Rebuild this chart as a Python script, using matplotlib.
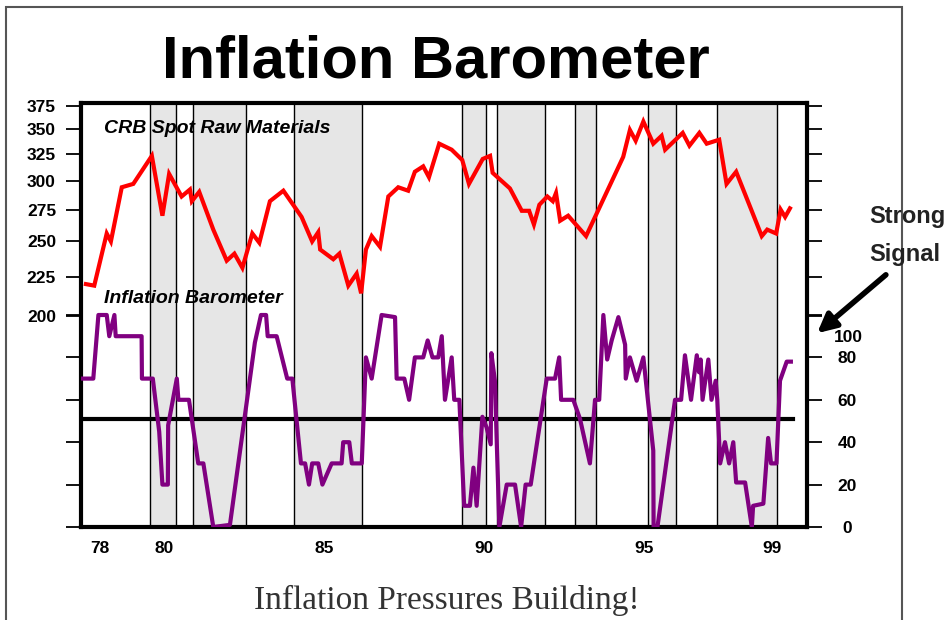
import numpy as np
import matplotlib
matplotlib.use("Agg")
import matplotlib.pyplot as plt
import matplotlib.transforms as mtransforms
from matplotlib.patches import Rectangle
from matplotlib.ticker import FixedLocator, NullLocator, FixedFormatter

plt.rcParams['font.family'] = ['Liberation Sans', 'DejaVu Sans']

# CRB Spot Raw Materials (left, log scale)
crb_year = [77.56, 77.82, 78.21, 78.34, 78.68, 79.04, 79.62, 79.95, 80.16, 80.55,
            80.81, 80.87, 81.10, 81.54, 81.96, 82.20, 82.45, 82.76, 82.98, 83.31,
            83.73, 84.30, 84.63, 84.82, 84.88, 85.29, 85.48, 85.76, 86.02, 86.16,
            86.31, 86.49, 86.75, 87.01, 87.32, 87.63, 87.84, 88.10, 88.28, 88.60,
            88.99, 89.32, 89.53, 89.96, 90.19, 90.27, 90.81, 91.18, 91.41, 91.56,
            91.73, 91.98, 92.15, 92.25, 92.38, 92.63, 93.19, 94.35, 94.56, 94.74,
            94.98, 95.29, 95.55, 95.66, 96.21, 96.42, 96.73, 96.96, 97.35, 97.58,
            97.88, 98.68, 98.85, 99.13, 99.27, 99.41, 99.56]
crb_value = [220, 219, 256, 250, 294, 297, 323, 270, 306, 286,
             292, 282, 290, 259, 236, 241, 231, 256, 249, 282,
             291, 269, 250, 257, 244, 237, 241, 219, 227, 214,
             244, 254, 246, 286, 294, 291, 308, 313, 303, 335,
             329, 319, 297, 320, 323, 307, 293, 274, 274, 263,
             279, 286, 282, 289, 266, 270, 254, 322, 349, 338,
             358, 335, 343, 329, 346, 333, 346, 335, 339, 297,
             308, 254, 259, 256, 275, 269, 276]

# Inflation Barometer (right, 0-100)
baro_year = [77.46, 77.79, 77.95, 78.21, 78.29, 78.45, 78.49, 79.30, 79.31, 79.65,
             79.85, 79.95, 80.12, 80.13, 80.40, 80.45, 80.78, 81.07, 81.23, 81.54,
             82.06, 82.84, 83.03, 83.19, 83.24, 83.52, 83.85, 84.01, 84.28, 84.41,
             84.53, 84.63, 84.82, 84.95, 85.24, 85.55, 85.60, 85.79, 85.87, 86.18,
             86.31, 86.49, 86.80, 87.22, 87.27, 87.51, 87.66, 87.84, 88.10, 88.24,
             88.39, 88.57, 88.68, 88.78, 88.99, 89.07, 89.23, 89.38, 89.56, 89.67,
             89.77, 89.95, 90.08, 90.21, 90.23, 90.34, 90.48, 90.71, 90.97, 91.16,
             91.30, 91.46, 91.96, 92.22, 92.35, 92.41, 92.79, 93.00, 93.31, 93.47,
             93.60, 93.73, 93.85, 93.99, 94.20, 94.41, 94.43, 94.56, 94.77, 94.98,
             95.29, 95.30, 95.42, 95.97, 96.16, 96.28, 96.47, 96.65, 96.72, 96.77,
             96.83, 97.01, 97.11, 97.24, 97.29, 97.38, 97.53, 97.66, 97.79, 97.88,
             98.16, 98.37, 98.41, 98.73, 98.88, 98.97, 99.14, 99.25, 99.46, 99.59]
baro_value = [70, 70, 100, 100, 90, 100, 90, 90, 70, 70,
              45, 20, 20, 48, 70, 60, 60, 30, 30, 0,
              1, 87, 100, 100, 90, 90, 70, 70, 30, 30,
              20, 30, 30, 20, 30, 30, 40, 40, 30, 30,
              80, 70, 100, 99, 70, 70, 60, 80, 80, 88,
              80, 80, 90, 60, 80, 60, 60, 10, 10, 28,
              10, 52, 47, 39, 82, 69, 0, 20, 20, 0,
              20, 20, 70, 70, 80, 60, 60, 51, 30, 60,
              60, 100, 79, 88, 99, 86, 70, 80, 69, 80,
              36, 0, 0, 60, 60, 81, 60, 81, 73, 79,
              60, 79, 60, 69, 60, 30, 40, 30, 40, 21,
              21, 0, 10, 11, 42, 30, 30, 69, 78, 78]

# shaded periods (start, end)
band_start = [79.56, 80.91, 84.06, 89.31, 90.41, 92.84, 95.13, 97.28]
band_end = [80.38, 82.56, 86.19, 90.06, 91.91, 93.50, 96.00, 99.16]

crb_ticks = [200, 225, 250, 275, 300, 325, 350, 375]
baro_ticks = [0, 20, 40, 60, 80, 100]
year_ticks = [78, 80, 85, 90, 95, 99]
year_labels = ['78', '80', '85', '90', '95', '99']
signal_level = 51

W, H = 948, 620
fig = plt.figure(figsize=(W / 100, H / 100), dpi=100)


def fx(x):
    return x / W


def fy(y):
    return 1 - y / H


ax = fig.add_axes([fx(81), fy(527), fx(807) - fx(81), fy(103) - fy(527)])
ax2 = ax.twinx()

# shaded bands
for s, e in zip(band_start, band_end):
    ax.axvspan(s, e, facecolor='#e6e6e6', edgecolor='black', lw=1, zorder=0)

ax.plot(crb_year, crb_value, color='#ff0000', lw=3, solid_joinstyle='miter', zorder=3)
ax.set_yscale('log')
ax.set_ylim(106.3, 378.4)
ax.set_xlim(77.406, 100.094)

ax2.plot(baro_year, baro_value, color='#800080', lw=3, zorder=3)
ax2.axhline(signal_level, xmin=0, xmax=0.981, color='black', lw=3, zorder=2)
ax2.set_ylim(0, 200)

# left axis: CRB labels
ax.yaxis.set_major_locator(FixedLocator(crb_ticks))
ax.yaxis.set_major_formatter(FixedFormatter([str(t) for t in crb_ticks]))
ax.yaxis.set_minor_locator(NullLocator())
ax.tick_params(axis='y', which='major', left=True, right=True, labelleft=True,
               labelright=False, direction='out', length=11, width=1.3, pad=7,
               labelsize=12.5)
for lbl in ax.get_yticklabels():
    lbl.set_fontweight('bold')

ax.set_xticks(year_ticks)
ax.set_xticklabels(year_labels, fontweight='bold', fontsize=12.5)
ax.tick_params(axis='x', length=0, pad=10)

# right axis: barometer labels
ax2.yaxis.set_major_locator(FixedLocator(baro_ticks))
ax2.yaxis.set_major_formatter(FixedFormatter(['0', '20', '40', '60', '80', '']))
ax2.tick_params(axis='y', left=True, right=True, labelleft=False, labelright=True,
                direction='out', length=11, width=1.3, pad=18, labelsize=12.5)
for lbl in ax2.get_yticklabels():
    lbl.set_fontweight('bold')
    lbl.set_horizontalalignment('center')
lab_tr = mtransforms.blended_transform_factory(ax2.transAxes, ax2.transData)
ax2.text(1.0565, 89.6, '100', transform=lab_tr, ha='center', va='center',
         fontsize=12.5, fontweight='bold')

for sp in ax.spines.values():
    sp.set_linewidth(3)
for sp in ax2.spines.values():
    sp.set_visible(False)

# titles and notes
fig.text(fx(436), fy(78), 'Inflation Barometer', ha='center', va='baseline',
         fontsize=43, fontweight='bold')
fig.text(fx(104), fy(129), 'CRB Spot Raw Materials', ha='left', va='center',
         fontsize=14, fontweight='bold', fontstyle='italic')
fig.text(fx(104), fy(298), 'Inflation Barometer', ha='left', va='center',
         fontsize=14, fontweight='bold', fontstyle='italic')
fig.text(fx(447), fy(609), 'Inflation Pressures Building!', ha='center', va='baseline',
         fontsize=24, family=['Liberation Serif', 'DejaVu Serif'], color='#333333')
fig.text(fx(869), fy(217), 'Strong', ha='left', va='center', fontsize=17,
         fontweight='bold', color='#222222')
fig.text(fx(869), fy(254), 'Signal', ha='left', va='center', fontsize=17,
         fontweight='bold', color='#222222')

ax.annotate('', xy=(815, H - 335), xytext=(888, H - 273), xycoords='figure pixels',
            textcoords='figure pixels', annotation_clip=False,
            arrowprops=dict(arrowstyle='-|>', lw=4, mutation_scale=28, color='black'))

# page border
fig.add_artist(Rectangle((fx(5.7), -0.05), fx(902) - fx(5.7), fy(6.5) + 0.05,
                         transform=fig.transFigure, fill=False, ec='#555555', lw=1.5))

fig.savefig('out.png', dpi=100)
